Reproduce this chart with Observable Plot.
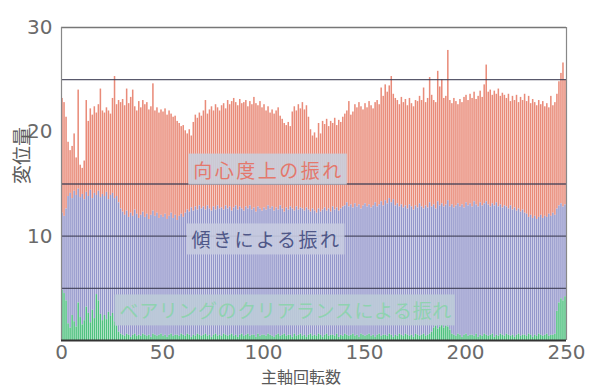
<!DOCTYPE html>
<html>
<head>
<meta charset="utf-8">
<script src="https://cdn.jsdelivr.net/npm/d3@7"></script>
<script src="https://cdn.jsdelivr.net/npm/@observablehq/plot@0.6"></script>
<style>
  html, body { margin: 0; padding: 0; background: #fff; }
  #chart { width: 596px; height: 387px; overflow: hidden; }
</style>
</head>
<body>
<div id="chart"></div>
<script>
// Top of the green (bearing clearance) layer, per spindle revolution
const bearingTop = [4.8,4.5,3.8,1.6,1.2,2.4,1.8,1.3,3.6,2.2,
1.5,1.9,3.2,2.6,1.7,2.9,2.1,4.4,3.8,2.5,
1.9,2.4,2.0,2.7,2.3,2.6,1.8,1.4,0.8,0.6,
0.5,0.4,0.6,0.5,0.3,0.5,0.6,0.4,0.5,0.4,
0.6,0.5,0.4,0.5,0.3,0.6,0.5,0.4,0.5,0.6,
0.4,0.5,0.3,0.5,0.6,0.4,0.5,0.5,0.4,0.6,
0.5,0.4,0.6,0.5,0.3,0.5,0.4,0.6,0.5,0.4,
0.5,0.6,0.4,0.5,0.3,0.5,0.6,0.4,0.5,0.4,
0.6,0.5,0.4,0.5,0.6,0.4,0.5,0.3,0.5,0.6,
0.4,0.5,0.6,0.4,0.5,0.5,0.3,0.6,0.4,0.5,
0.5,0.4,0.6,0.5,0.4,0.3,0.5,0.6,0.4,0.5,
0.6,0.4,0.5,0.5,0.3,0.6,0.4,0.5,0.6,0.4,
0.5,0.3,0.5,0.6,0.4,0.5,0.4,0.6,0.5,0.3,
0.5,0.6,0.4,0.5,0.5,0.4,0.6,0.3,0.5,0.4,
0.6,0.5,0.4,0.5,0.6,0.4,0.5,0.3,0.6,0.5,
0.4,0.5,0.6,0.4,0.5,0.3,0.5,0.6,0.4,0.5,
0.5,0.4,0.6,0.5,0.3,0.5,0.4,0.6,0.5,0.4,
0.6,0.5,0.4,0.5,0.3,0.6,0.5,0.4,0.5,0.6,
0.4,0.5,0.6,0.8,1.2,1.4,1.1,1.3,1.5,1.2,
1.4,1.3,1.0,0.6,0.5,0.4,0.6,0.5,0.3,0.5,
0.6,0.4,0.5,0.5,0.4,0.6,0.3,0.5,0.4,0.6,
0.5,0.4,0.5,0.6,0.3,0.5,0.4,0.6,0.5,0.4,
0.6,0.5,0.4,0.5,0.3,0.5,0.6,0.4,0.5,0.5,
0.4,0.6,0.5,0.3,0.5,0.4,0.6,0.5,0.4,0.5,
0.6,0.4,0.5,0.5,0.6,2.8,3.6,4.0,3.8,4.2];

// Top of the blue (tilt) layer
const tiltTop = [12.2,11.9,12.6,13.8,14.1,13.6,14.3,13.9,14.5,13.7,
14.0,13.5,14.2,13.8,14.4,13.6,14.1,13.9,14.3,13.7,
14.0,13.8,14.2,13.5,13.9,14.1,13.6,13.8,13.2,12.6,
12.3,12.0,12.4,11.8,12.2,11.9,12.5,12.1,11.7,12.0,
12.3,11.8,12.1,11.6,12.0,12.4,11.9,12.2,11.7,12.0,
11.8,12.1,11.6,11.9,12.2,11.7,12.0,11.5,11.9,12.1,
11.8,12.2,12.5,12.3,12.7,12.4,12.8,12.5,12.9,12.6,
12.8,12.5,12.9,12.6,12.4,12.8,12.5,12.9,12.6,12.7,
12.5,12.9,12.6,12.8,12.4,12.7,12.9,12.5,12.8,12.6,
12.4,12.8,12.6,12.9,12.5,12.7,12.3,12.8,12.6,12.4,
12.7,12.5,12.9,12.6,12.8,12.4,12.7,12.5,12.9,12.6,
12.3,12.7,12.5,12.8,12.6,12.4,12.8,12.5,12.7,12.6,
12.4,12.7,12.5,12.3,12.6,12.4,12.2,12.6,12.3,12.5,
12.7,12.4,12.6,12.3,12.8,12.5,12.7,12.4,12.6,12.8,
12.9,13.2,12.8,13.0,12.7,13.1,12.8,13.0,12.6,12.9,
13.1,12.8,13.0,12.7,12.9,13.2,12.8,13.0,13.3,12.9,
13.4,13.1,13.6,13.2,13.5,12.9,13.1,12.8,13.0,12.7,
12.9,12.6,13.0,12.8,12.5,12.9,12.7,13.1,12.8,12.6,
12.9,12.7,13.2,12.8,13.0,12.6,13.3,12.9,13.1,12.8,
13.0,13.4,12.8,13.0,12.7,12.9,13.1,12.8,13.0,12.7,
13.2,12.9,13.1,12.8,13.3,13.0,12.8,13.2,12.9,13.1,
13.3,13.0,12.8,13.1,12.9,13.2,12.8,13.0,12.7,12.9,
12.8,12.6,12.9,12.5,12.7,12.4,12.6,12.3,12.5,12.2,
12.1,11.8,12.0,11.7,11.9,11.6,11.8,12.0,11.7,11.9,
11.8,12.1,11.9,12.2,12.0,12.6,12.9,13.1,12.8,13.0];

// Top of the red (concentricity) layer = total displacement
const totalTop = [23.2,22.8,21.4,19.0,18.2,18.6,19.8,17.5,24.0,16.8,
16.5,17.2,23.0,21.0,22.2,21.6,22.4,21.8,22.6,24.1,
22.0,21.8,22.3,22.0,21.7,23.2,25.3,22.6,23.0,22.8,
23.1,22.5,24.1,22.7,23.3,24.0,22.4,22.0,22.9,22.3,
23.0,22.6,22.8,22.1,22.4,24.6,22.0,22.3,21.8,22.1,
21.9,22.2,21.6,22.0,21.7,21.4,21.5,21.0,20.8,20.5,
20.6,20.1,19.8,20.2,19.6,20.9,21.6,21.3,21.8,21.5,
22.0,23.0,21.7,22.1,22.4,22.0,22.6,22.3,22.0,22.5,
22.7,22.2,23.0,22.6,22.9,23.2,22.8,22.5,23.1,22.7,
22.8,23.0,22.4,22.9,22.6,23.3,22.7,22.5,22.9,22.3,
22.6,22.0,22.4,21.8,22.1,21.7,22.0,22.3,21.5,21.2,
20.8,20.6,20.9,20.5,21.9,22.4,22.0,22.6,22.2,22.8,
22.1,22.5,21.4,20.2,19.6,19.9,19.4,20.8,19.8,21.0,
20.7,21.2,20.5,21.0,20.8,21.3,20.6,21.1,20.9,21.4,
21.7,22.0,22.9,21.6,21.9,22.6,22.3,22.8,22.4,22.1,
22.7,22.3,22.9,22.5,22.2,22.8,23.0,22.6,24.2,23.4,
24.5,23.8,24.4,25.3,23.6,23.2,23.0,22.6,23.3,22.8,
23.1,22.5,23.2,22.7,22.4,23.0,22.9,23.4,23.0,24.2,
22.8,23.2,25.2,23.5,23.0,22.8,25.8,24.3,25.0,23.2,
23.4,27.8,23.0,22.7,23.2,22.9,22.6,23.1,22.8,23.3,
23.5,23.0,23.6,23.2,23.8,23.1,23.4,23.9,23.3,24.5,
26.4,23.8,24.0,23.5,23.9,23.6,24.1,23.4,23.7,23.5,
23.2,23.6,22.9,23.4,23.0,23.5,22.8,23.3,23.0,23.6,
22.9,23.4,22.7,23.1,22.8,22.5,23.0,22.6,22.9,22.4,
22.7,22.3,23.4,22.5,22.8,23.6,24.8,25.6,26.6,25.0];

const xTicks = [0, 50, 100, 150, 200, 250];
const yTicks = [10, 20, 30];
const gridValues = [5, 10, 15, 25];

const labelTexts = ["向心度上の振れ", "傾きによる振れ", "ベアリングのクリアランスによる振れ"];
const labelX = [102.5, 101.5, 111];
const labelY = [16.2, 9.5, 2.7];
const labelColors = ["#e4786c", "#4f5788", "#8fd2b0"];
const labelBoxColors = ["#c9cedc", "#c6cbe0", "#bccbd8"];

const xTitle = "主軸回転数";
const yTitle = "変位量";

const idx = d3.range(totalTop.length);
const labels = labelTexts.map((t, i) => ({t, x: labelX[i], y: labelY[i], c: labelColors[i], b: labelBoxColors[i]}));

const tickFont = "'DejaVu Sans', sans-serif";
const cjk = "'Noto Sans CJK JP', sans-serif";

const plot = Plot.plot({
  width: 596,
  height: 387,
  marginLeft: 61,
  marginRight: 30,
  marginTop: 27,
  marginBottom: 47,
  style: {fontFamily: tickFont, fontSize: "20px", color: "#6a6a6a", background: "#fff"},
  x: {domain: [0, 250], ticks: xTicks, tickSize: 0, tickPadding: 4, label: null, tickFormat: d => String(d)},
  y: {domain: [0, 30], ticks: yTicks, tickSize: 0, tickPadding: 9, label: null},
  marks: [
    Plot.rectY(idx, {x1: i => i, x2: i => i + 1, y1: i => tiltTop[i], y2: i => totalTop[i], fill: "#e98b79", insetLeft: 0.25, insetRight: 0.25}),
    Plot.rectY(idx, {x1: i => i, x2: i => i + 1, y1: i => bearingTop[i], y2: i => tiltTop[i], fill: "#9497cb", insetLeft: 0.25, insetRight: 0.25}),
    Plot.rectY(idx, {x1: i => i, x2: i => i + 1, y1: 0, y2: i => bearingTop[i], fill: "#4fc17f", insetLeft: 0.25, insetRight: 0.25}),
    Plot.ruleY(gridValues, {stroke: "#3c3c52", strokeWidth: 1.4, strokeOpacity: 0.85}),
    Plot.ruleY([30], {stroke: "#777", strokeWidth: 1.4}),
    Plot.ruleX([0, 250], {stroke: "#888", strokeWidth: 1.2}),
    Plot.ruleY([0], {stroke: "#333", strokeWidth: 2}),
    Plot.text(labels, {x: "x", y: "y", text: "t", fill: "c", fontSize: 19, fontFamily: cjk, className: "zone-label", stroke: null}),
    Plot.text([yTitle], {frameAnchor: "left", dx: -39, rotate: -90, fontSize: 19, fontFamily: cjk, fill: "#5a5a5a"}),
    Plot.text([xTitle], {frameAnchor: "bottom", lineAnchor: "bottom", dx: -13, dy: 42, fontSize: 16, fontFamily: cjk, fill: "#5a5a5a"})
  ]
});

document.getElementById("chart").appendChild(plot);

// background boxes behind the zone labels
const g = plot.querySelector("g.zone-label") || plot.querySelector(".zone-label");
if (g) {
  const texts = g.querySelectorAll("text");
  texts.forEach((t, i) => {
    t.style.letterSpacing = i < 2 ? "2.5px" : "0.6px";
  });
  texts.forEach((t, i) => {
    const bb = t.getBBox();
    const ctm = t.getAttribute("transform");
    const r = document.createElementNS("http://www.w3.org/2000/svg", "rect");
    r.setAttribute("x", bb.x - 5);
    r.setAttribute("y", bb.y - 2);
    r.setAttribute("width", bb.width + 8);
    r.setAttribute("height", bb.height + 4);
    if (ctm) r.setAttribute("transform", ctm);
    r.setAttribute("fill", labels[i].b);
    r.setAttribute("fill-opacity", "0.9");
    t.parentNode.insertBefore(r, t);
  });
}
</script>
</body>
</html>
